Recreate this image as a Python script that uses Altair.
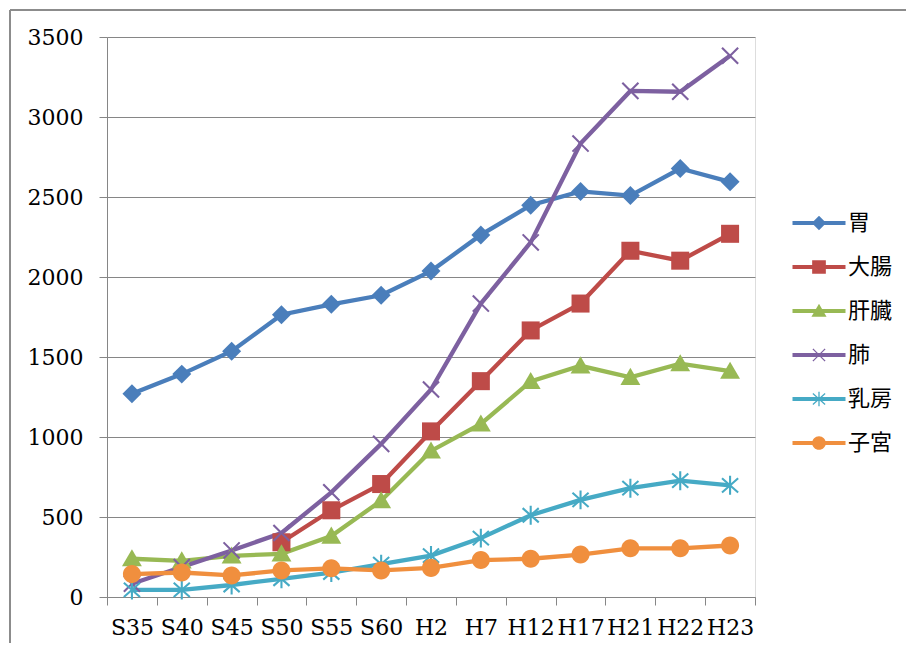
import math
import altair as alt
import pandas as pd

# ---------------- data ----------------
categories = ["S35", "S40", "S45", "S50", "S55", "S60", "H2", "H7", "H12", "H17", "H21", "H22", "H23"]
series_names = ["胃", "大腸", "肝臓", "肺", "乳房", "子宮"]
stomach = [1271, 1393, 1536, 1764, 1829, 1886, 2037, 2263, 2449, 2535, 2509, 2678, 2595]
colon = [None, None, None, 342, 542, 706, 1035, 1349, 1666, 1834, 2164, 2102, 2270]
liver = [239, 226, 257, 270, 381, 602, 913, 1082, 1347, 1445, 1373, 1458, 1411]
lung = [83, 187, 291, 400, 654, 957, 1297, 1834, 2216, 2834, 3163, 3158, 3383]
breast = [44, 44, 75, 114, 153, 205, 259, 368, 511, 607, 680, 727, 698]
uterus = [143, 153, 135, 166, 179, 166, 182, 231, 239, 265, 304, 304, 322]
y_ticks = [0, 500, 1000, 1500, 2000, 2500, 3000, 3500]
colors = ["#4A7EBB", "#BE4B48", "#98B954", "#7D60A0", "#46AAC5", "#F08F3E"]

series_values = [stomach, colon, liver, lung, breast, uterus]
rows = []
for name, vals in zip(series_names, series_values):
    for cat, v in zip(categories, vals):
        if v is not None:
            rows.append({"series": name, "category": cat, "value": v})
df = pd.DataFrame(rows)

# ---------------- marker shapes (SVG paths, unit square) ----------------
def fmt(v):
    return f"{v:.3f}"

def poly(pts):
    area = sum(pts[i][0] * pts[(i + 1) % len(pts)][1] - pts[(i + 1) % len(pts)][0] * pts[i][1]
               for i in range(len(pts)))
    if area < 0:
        pts = pts[::-1]
    return "M" + "L".join(f"{fmt(x)},{fmt(y)}" for x, y in pts) + "Z"

def bar_pts(x1, y1, x2, y2, t):
    dx, dy = x2 - x1, y2 - y1
    L = math.hypot(dx, dy)
    nx, ny = -dy / L * t, dx / L * t
    return [(x1 + nx, y1 + ny), (x2 + nx, y2 + ny), (x2 - nx, y2 - ny), (x1 - nx, y1 - ny)]

def marker(kind, s=1.0, t=0.13):
    def tr(pts):
        return [(x * s, y * s) for x, y in pts]
    if kind == "diamond":
        return poly(tr([(0, -1), (1, 0), (0, 1), (-1, 0)]))
    if kind == "square":
        return poly(tr([(-0.95, -0.95), (0.95, -0.95), (0.95, 0.95), (-0.95, 0.95)]))
    if kind == "triangle":
        return poly(tr([(0, -1), (1.05, 0.8), (-1.05, 0.8)]))
    if kind == "x":
        return " ".join(poly(tr(bar_pts(*b, t))) for b in
                        [(-0.85, -0.85, 0.85, 0.85), (-0.85, 0.85, 0.85, -0.85)])
    if kind == "asterisk":
        return " ".join(poly(tr(bar_pts(*b, t))) for b in
                        [(0, -1, 0, 1), (-0.85, -0.75, 0.85, 0.75), (-0.85, 0.75, 0.85, -0.75)])
    if kind == "circle":
        r = 0.95 * s
        return f"M{fmt(r)},0A{fmt(r)},{fmt(r)} 0 1,1 {fmt(-r)},0A{fmt(r)},{fmt(r)} 0 1,1 {fmt(r)},0Z"

kinds = ["diamond", "square", "triangle", "x", "asterisk", "circle"]
point_shapes = [marker(k, s=1.0, t=0.11) for k in kinds]

# legend symbols: a line segment with the marker on it (unit = 10 px)
line_rect = poly([(-2.65, -0.2), (2.65, -0.2), (2.65, 0.2), (-2.65, 0.2)])
legend_shapes = [line_rect + " " + marker(k, s=0.72, t=0.09) for k in kinds]

legend = alt.Legend(
    title=None, orient="none", legendX=701, legendY=175, padding=0,
    symbolSize=400, symbolStrokeWidth=0, symbolOpacity=1, rowPadding=22,
    labelOffset=18, labelFont="Noto Sans CJK JP", labelFontSize=22,
    labelColor="#000000",
)

grey = "#868686"
x_enc = alt.X(
    "category:N",
    sort=categories,
    scale=alt.Scale(type="band", domain=categories, paddingInner=0, paddingOuter=0),
    bandPosition=0.5,
    axis=alt.Axis(
        title=None, grid=False, tickBand="extent", tickSize=8, tickColor=grey,
        domainColor=grey, labelFont="DejaVu Serif", labelFontSize=22,
        labelColor="#000000", labelPadding=12, labelAngle=0, labelOverlap=False,
    ),
)
y_enc = alt.Y(
    "value:Q",
    scale=alt.Scale(domain=[0, 3500], nice=False),
    axis=alt.Axis(
        title=None, values=y_ticks, format="d", grid=True, gridColor=grey, tickSize=8,
        tickColor=grey, domainColor=grey, labelFont="DejaVu Serif",
        labelFontSize=22, labelColor="#000000", labelPadding=16,
    ),
)
color_enc = alt.Color("series:N", scale=alt.Scale(domain=series_names, range=colors),
                      legend=legend)

base = alt.Chart(df).encode(x=x_enc, y=y_enc, color=color_enc)
lines = base.mark_line(strokeWidth=4.3)

point_layers = [
    base.transform_filter(alt.datum.series == name).mark_point(
        shape=shape, filled=True, size=360, opacity=1, strokeWidth=0)
    for name, shape in zip(series_names, point_shapes)
]

# layer that only carries the legend's symbols (no rows drawn)
legend_layer = base.transform_filter("false").mark_point(filled=True).encode(
    shape=alt.Shape("series:N", scale=alt.Scale(domain=series_names, range=legend_shapes),
                    legend=legend)
)

frame_df = pd.DataFrame({"k": [0]})
frame_top = alt.Chart(frame_df).mark_rule(color="#8c8c8c", strokeWidth=2).encode(
    x=alt.value(-97), x2=alt.value(900), y=alt.value(-27))
frame_left = alt.Chart(frame_df).mark_rule(color="#8c8c8c", strokeWidth=2).encode(
    x=alt.value(-97), y=alt.value(-27), y2=alt.value(700))

chart = alt.layer(lines, *point_layers, legend_layer, frame_top, frame_left).properties(
    width=648,
    height=560,
    padding={"left": 99, "top": 29, "right": 151, "bottom": 46},
    autosize=alt.AutoSizeParams(type="none"),
).configure_view(strokeWidth=0).configure(background="white")

chart.save("out.html", embed_options={"renderer": "svg", "actions": False})
